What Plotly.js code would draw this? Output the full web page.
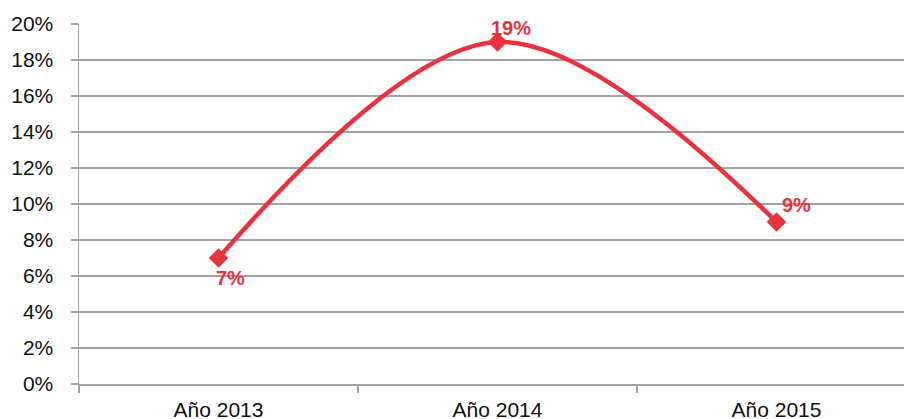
<!DOCTYPE html>
<html>
<head>
<meta charset="utf-8">
<script src="https://cdn.plot.ly/plotly-3.0.1.min.js"></script>
<style>
  html, body { margin: 0; padding: 0; background: #fff; overflow: hidden; }
  #chart { width: 904px; height: 419px; }
</style>
</head>
<body>
<div id="chart"></div>
<script>
// Yearly percentages
const years = ['Año 2013', 'Año 2014', 'Año 2015'];
const shares = [0.07, 0.19, 0.09];
const yTicks = [0, 0.02, 0.04, 0.06, 0.08, 0.10, 0.12, 0.14, 0.16, 0.18, 0.20];

// Offsets for each value label relative to its point (px)
const labelShift = [[12, -20], [13, 14], [20, 17]];

const red = '#e8323e';
const gridGray = '#a3a3a3';

const trace = {
  x: years,
  y: shares,
  type: 'scatter',
  mode: 'lines+markers',
  line: { color: red, width: 4.5, shape: 'spline', smoothing: 1 },
  marker: { symbol: 'diamond', size: 15, color: red },
  hoverinfo: 'skip',
  cliponaxis: false
};

const annotations = years.map((yr, i) => ({
  x: yr,
  y: shares[i],
  xref: 'x',
  yref: 'y',
  text: Math.round(shares[i] * 100) + '%',
  showarrow: false,
  xshift: labelShift[i][0],
  yshift: labelShift[i][1],
  font: { family: 'Liberation Sans, Arial, sans-serif', size: 20, color: red, weight: 'bold' }
}));

const layout = {
  width: 904,
  height: 419,
  margin: { l: 79, r: 0, t: 24, b: 35 },
  paper_bgcolor: '#fff',
  plot_bgcolor: '#fff',
  showlegend: false,
  font: { family: 'Liberation Sans, Arial, sans-serif', size: 21, color: '#111' },
  xaxis: {
    type: 'category',
    range: [-0.5, 2.457],
    tickson: 'boundaries',
    ticks: 'outside',
    ticklen: 7,
    tickcolor: gridGray,
    tickwidth: 1.5,
    showgrid: false,
    showline: true,
    linecolor: gridGray,
    linewidth: 1.5,
    zeroline: false,
    ticklabelstandoff: 6,
    fixedrange: true
  },
  yaxis: {
    range: [0, 0.2],
    tickvals: yTicks,
    tickformat: '.0%',
    ticks: 'outside',
    ticklen: 7,
    tickcolor: gridGray,
    tickwidth: 1.5,
    showgrid: true,
    gridcolor: gridGray,
    gridwidth: 1.5,
    showline: true,
    linecolor: gridGray,
    linewidth: 1.5,
    zeroline: false,
    ticklabelstandoff: 13,
    fixedrange: true
  },
  annotations: annotations
};

Plotly.newPlot('chart', [trace], layout, { displayModeBar: false, staticPlot: true });
</script>
</body>
</html>
